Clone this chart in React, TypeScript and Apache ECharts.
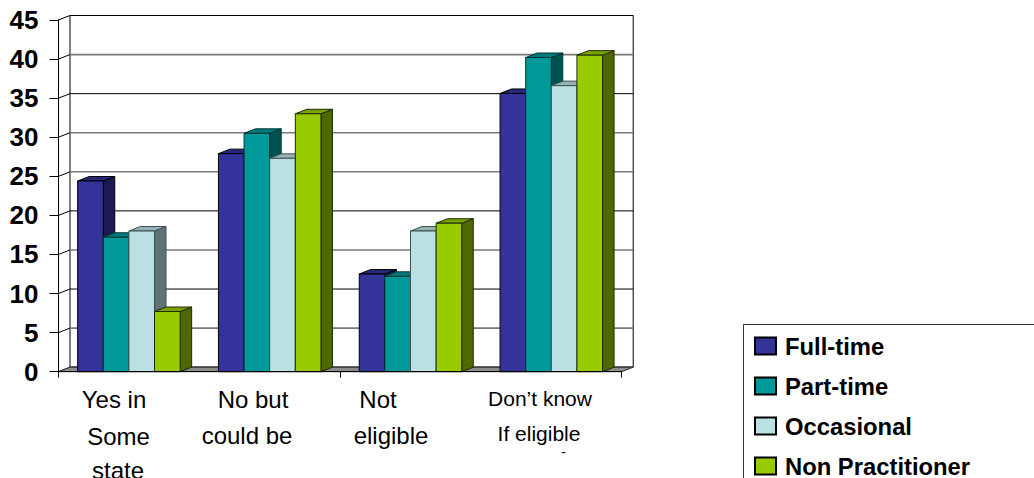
import React, { useEffect, useRef } from "react";
import * as echarts from "echarts";

const categories = ["Yes in Some state", "No but could be", "Not eligible", "Don’t know If eligible"];
const yTicks = [0, 5, 10, 15, 20, 25, 30, 35, 40, 45];
const fullTime = [24.4, 27.9, 12.5, 35.6];
const partTime = [17.2, 30.5, 12.2, 40.2];
const occasional = [18.0, 27.3, 18.0, 36.6];
const nonPractitioner = [7.7, 33.0, 19.0, 40.5];
const seriesNames = ["Full-time", "Part-time", "Occasional", "Non Practitioner"];
const seriesValues = [fullTime, partTime, occasional, nonPractitioner];

const FONT = "'Liberation Sans', Arial, sans-serif";
const frontFaces = ["#333399", "#009999", "#BBE0E3", "#99CC00"];
const topFaces = ["#28287A", "#007A7A", "#95B3B5", "#7AA300"];
const sideFaces = ["#1B1B52", "#005252", "#5F7274", "#4F6900"];
const edges = ["#000000", "#003333", "#3F4F50", "#1F2900"];

// Depth of the box projection, in pixels
const DX = 11.5;
const DY = 4.5;
const BAR_RATIO = 0.182;

// Hand-placed wrapped category captions, one entry per drawn line
const captionLines = [
  { text: "Yes in", x: 114, y: 399, size: 24 },
  { text: "Some", x: 118.5, y: 436, size: 24 },
  { text: "state", x: 118, y: 470, size: 24 },
  { text: "No but", x: 253, y: 399, size: 24 },
  { text: "could be", x: 247, y: 435, size: 24 },
  { text: "Not", x: 378, y: 399, size: 24 },
  { text: "eligible", x: 391, y: 435, size: 24 },
  { text: "Don’t know", x: 540, y: 398, size: 21 },
  { text: "If eligible", x: 539, y: 433, size: 21 },
  { text: "-", x: 563.5, y: 452, size: 14 },
];

// Back-wall rules alternate between thin black and heavier grey strokes
const ruleStyles = [
  { color: "#000000", width: 1 },
  { color: "#7A7A7A", width: 1.6 },
  { color: "#000000", width: 1 },
  { color: "#7A7A7A", width: 1.6 },
  { color: "#000000", width: 1 },
  { color: "#7A7A7A", width: 1.6 },
  { color: "#7A7A7A", width: 1.6 },
  { color: "#000000", width: 1 },
  { color: "#7A7A7A", width: 1.6 },
  { color: "#000000", width: 1 },
];

function boxSeries(index: number) {
  return {
    type: "custom",
    name: seriesNames[index],
    xAxisIndex: 0,
    yAxisIndex: 0,
    z: 3,
    silent: true,
    itemStyle: { color: frontFaces[index], borderColor: "#000", borderWidth: 1 },
    encode: { x: 0, y: 1 },
    data: seriesValues[index].map((v, i) => [i, v]),
    renderItem: (_params: any, api: any) => {
      const band = api.size([1, 0])[0];
      const w = band * BAR_RATIO;
      const top = api.coord([api.value(0), api.value(1)]);
      const base = api.coord([api.value(0), 0]);
      const x0 = top[0] + (index - 2) * w;
      const x1 = x0 + w;
      const y0 = top[1];
      const y1 = base[1];
      const stroke = edges[index];
      const face = (points: number[][], fill: string) => ({
        type: "polygon",
        shape: { points },
        style: { fill, stroke, lineWidth: 1 },
      });
      return {
        type: "group",
        children: [
          face([[x1, y0], [x1 + DX, y0 - DY], [x1 + DX, y1 - DY], [x1, y1]], sideFaces[index]),
          face([[x0, y0], [x0 + DX, y0 - DY], [x1 + DX, y0 - DY], [x1, y0]], topFaces[index]),
          face([[x0, y0], [x1, y0], [x1, y1], [x0, y1]], frontFaces[index]),
        ],
      };
    },
  };
}

// Grey floor of the box, the back-wall rules, and the connectors from the front axis to the wall
const wallSeries = {
  type: "custom",
  name: "walls",
  xAxisIndex: 0,
  yAxisIndex: 0,
  z: 2,
  silent: true,
  encode: { y: 0 },
  data: yTicks.map((t) => [t]),
  renderItem: (params: any, api: any) => {
    const band = api.size([1, 0])[0];
    const left = api.coord([0, 0])[0] - band / 2;
    const right = left + band * categories.length;
    const bottom = api.coord([0, 0])[1];
    const y = api.coord([0, api.value(0)])[1];
    const rule = ruleStyles[params.dataIndex];
    const children: any[] = [
      {
        type: "line",
        shape: { x1: left + DX, y1: y - DY, x2: right + DX, y2: y - DY },
        style: { stroke: rule.color, lineWidth: rule.width },
      },
      {
        type: "line",
        shape: { x1: left, y1: y, x2: left + DX, y2: y - DY },
        style: { stroke: "#000", lineWidth: 1 },
      },
    ];
    if (api.value(0) === 0) {
      children.push({
        type: "polygon",
        shape: {
          points: [[left, bottom], [right, bottom], [right + DX, bottom - DY], [left + DX, bottom - DY]],
        },
        style: { fill: "#8C8C8C", stroke: "#333", lineWidth: 1 },
      });
    }
    return { type: "group", children };
  },
};

export default function App() {
  const ref = useRef<HTMLDivElement>(null);

  useEffect(() => {
    if (!ref.current) return;
    const chart = echarts.init(ref.current, undefined, { renderer: "svg" });
    chart.setOption({
      animation: false,
      backgroundColor: "#fff",
      grid: [
        { left: 58.5, right: 412.3, top: 20, bottom: 106.3, z: 1 },
        {
          left: 70,
          right: 400.8,
          top: 15.5,
          bottom: 110.8,
          show: true,
          backgroundColor: "#fff",
          borderColor: "#000",
          borderWidth: 1,
          z: 0,
        },
      ],
      xAxis: [
        {
          type: "category",
          gridIndex: 0,
          data: categories,
          axisLine: { lineStyle: { color: "#000", width: 1 } },
          axisTick: { show: true, length: 6, alignWithLabel: false, lineStyle: { color: "#000" } },
          axisLabel: { show: false },
          z: 4,
        },
        { type: "category", gridIndex: 1, data: categories, show: false },
      ],
      yAxis: [
        {
          type: "value",
          gridIndex: 0,
          min: 0,
          max: 45,
          interval: 5,
          axisLine: { show: true, lineStyle: { color: "#000", width: 1 } },
          axisTick: { show: true, length: 9, lineStyle: { color: "#000" } },
          axisLabel: {
            color: "#000",
            fontFamily: FONT,
            fontWeight: "bold",
            fontSize: 26,
            margin: 20,
            hideOverlap: false,
          },
          splitLine: { show: false },
        },
        {
          type: "value",
          gridIndex: 1,
          min: 0,
          max: 45,
          interval: 5,
          axisLine: { show: false },
          axisTick: { show: false },
          axisLabel: { show: false },
          splitLine: { show: false },
        },
      ],
      legend: {
        data: seriesNames,
        orient: "vertical",
        left: 754,
        top: 334,
        height: 300,
        width: 280,
        padding: 0,
        itemWidth: 21,
        itemHeight: 17,
        itemGap: 16,
        icon: "rect",
        selectedMode: false,
        textStyle: {
          color: "#000",
          fontFamily: FONT,
          fontWeight: "bold",
          fontSize: 23.8,
          padding: [0, 0, 0, 4],
        },
      },
      graphic: [
        {
          type: "rect",
          silent: true,
          z: -1,
          shape: { x: 743.5, y: 324.5, width: 400, height: 200 },
          style: { fill: "#fff", stroke: "#333", lineWidth: 1 },
        },
        ...captionLines.map((l) => ({
          type: "text",
          silent: true,
          x: l.x,
          y: l.y,
          style: {
            text: l.text,
            fill: "#000",
            font: `${l.size}px ${FONT}`,
            textAlign: "center",
            textVerticalAlign: "middle",
          },
        })),
      ],
      series: [wallSeries, ...seriesNames.map((_, i) => boxSeries(i))],
    });
    return () => chart.dispose();
  }, []);

  return (
    <div
      ref={ref}
      style={{ position: "fixed", left: 0, top: 0, width: 1034, height: 478, overflow: "hidden" }}
    />
  );
}
